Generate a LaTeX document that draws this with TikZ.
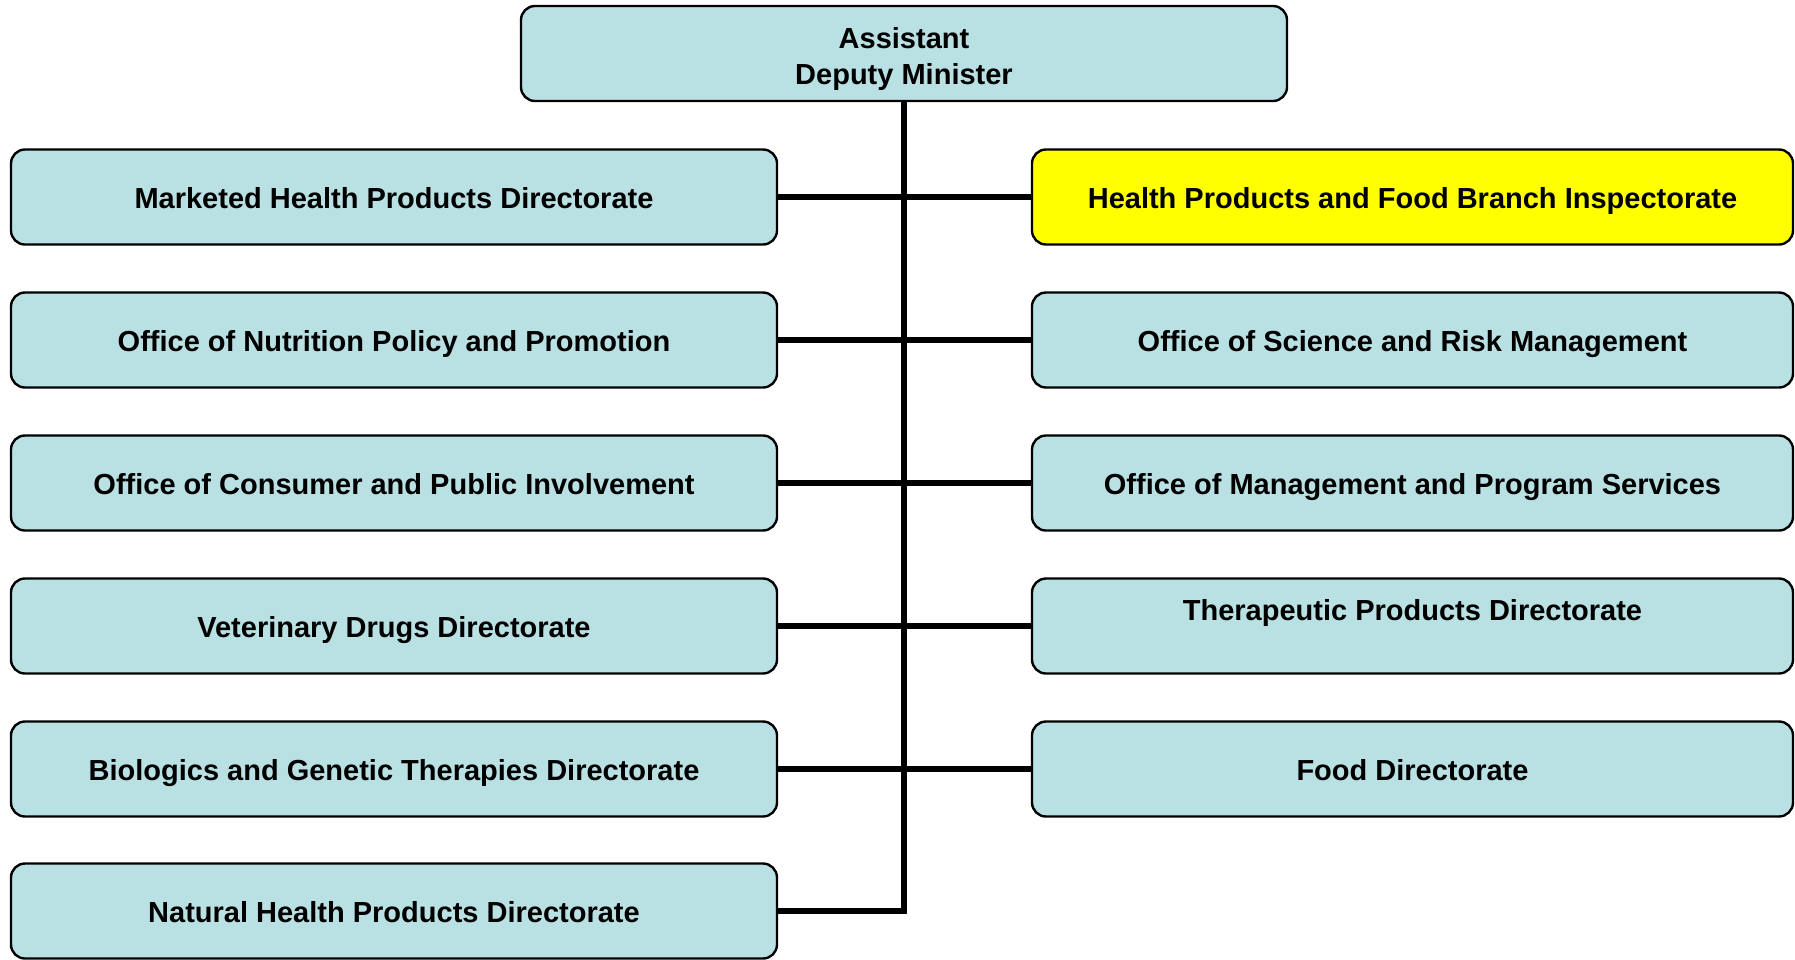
\documentclass[tikz,border=0pt]{standalone}
\usepackage{fontspec}
\setmainfont{Liberation Sans}
\usetikzlibrary{backgrounds}
\definecolor{boxblue}{RGB}{185,224,227}
\definecolor{boxyellow}{RGB}{255,255,0}
\tikzset{
  orgfont/.style={font=\fontsize{29}{36}\selectfont\bfseries},
  orgbox/.style={draw=black, line width=2.4pt, rounded corners=14pt, fill=boxblue,
    minimum height=95pt, inner sep=0pt, align=center, orgfont,
    text height=23pt, text depth=0pt},
  leftbox/.style={orgbox, minimum width=766pt},
  rightbox/.style={orgbox, minimum width=761pt},
  label text/.style={orgfont, align=center, inner sep=0pt},
  link/.style={draw=black, line width=5.5pt},
}
\begin{document}
\begin{tikzpicture}[x=1pt,y=1pt]
\useasboundingbox (0,0) rectangle (1795,-959);
\node[orgbox, minimum width=766pt] (adm) at (904,-53.5) {};
\node[label text] (admt) at (904,-58.5) {Assistant\\Deputy Minister};

\node[leftbox] (l1) at (394,-197) {Marketed Health Products Directorate};
\node[leftbox] (l2) at (394,-340) {Office of Nutrition Policy and Promotion};
\node[leftbox] (l3) at (394,-483) {Office of Consumer and Public Involvement};
\node[leftbox] (l4) at (394,-626) {Veterinary Drugs Directorate};
\node[leftbox] (l5) at (394,-769) {Biologics and Genetic Therapies Directorate};
\node[leftbox] (l6) at (394,-911) {Natural Health Products Directorate};

\node[rightbox, fill=boxyellow] (r1) at (1412.5,-197) {Health Products and Food Branch Inspectorate};
\node[rightbox] (r2) at (1412.5,-340) {Office of Science and Risk Management};
\node[rightbox] (r3) at (1412.5,-483) {Office of Management and Program Services};
\node[rightbox] (r4) at (1412.5,-626) {};
\node[label text, text height=23pt, text depth=0pt] (r4t) at (1412.5,-609) {Therapeutic Products Directorate};
\node[rightbox] (r5) at (1412.5,-769) {Food Directorate};

\begin{scope}[on background layer]
\coordinate (trunkend) at (adm.south |- l6.east);
\draw[link] (adm.south) -- (trunkend) -- (l6.east);
\draw[link] (l1.east) -- (r1.west);
\draw[link] (l2.east) -- (r2.west);
\draw[link] (l3.east) -- (r3.west);
\draw[link] (l4.east) -- (r4.west);
\draw[link] (l5.east) -- (r5.west);
\end{scope}
\end{tikzpicture}
\end{document}
